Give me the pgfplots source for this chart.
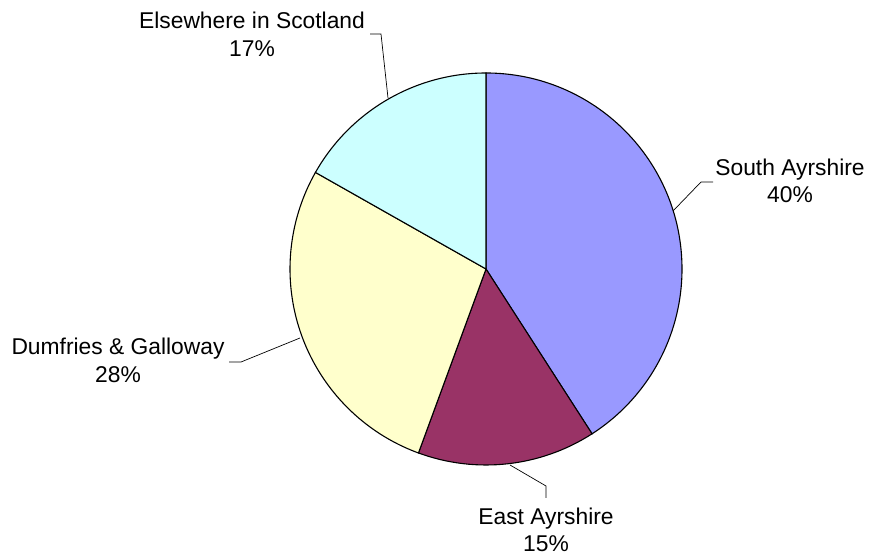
\documentclass[border=0pt]{standalone}
\usepackage{pgfplots}
\pgfplotsset{compat=1.18}
\usepackage{fontspec}
\setmainfont{Liberation Sans}
\definecolor{cSouth}{HTML}{9999FF}
\definecolor{cEast}{HTML}{993366}
\definecolor{cDumf}{HTML}{FFFFCC}
\definecolor{cElse}{HTML}{CCFFFF}
% shares (percent), clockwise from 12 o'clock
\def\pSouth{40.9}
\def\pEast{14.7}
\def\pDumf{27.6}
\def\pElse{16.8}
\pgfmathsetmacro\aA{90}
\pgfmathsetmacro\aB{\aA-3.6*\pSouth}
\pgfmathsetmacro\aC{\aB-3.6*\pEast}
\pgfmathsetmacro\aD{\aC-3.6*\pDumf}
\pgfmathsetmacro\aE{\aD-3.6*\pElse}
\begin{document}
\begin{tikzpicture}
\begin{axis}[
  x=1bp, y=1bp, xmin=0, xmax=871, ymin=0, ymax=560,
  hide axis, clip=false, scale only axis,
]
\path (axis cs:0,0) rectangle (axis cs:871,560);
\draw[fill=cSouth, line width=1.1pt] (axis cs:486,291) -- ++(\aA:196bp) arc[start angle=\aA, end angle=\aB, radius=196bp] -- cycle;
\draw[fill=cEast, line width=1.1pt] (axis cs:486,291) -- ++(\aB:196bp) arc[start angle=\aB, end angle=\aC, radius=196bp] -- cycle;
\draw[fill=cDumf, line width=1.1pt] (axis cs:486,291) -- ++(\aC:196bp) arc[start angle=\aC, end angle=\aD, radius=196bp] -- cycle;
\draw[fill=cElse, line width=1.1pt] (axis cs:486,291) -- ++(\aD:196bp) arc[start angle=\aD, end angle=\aE, radius=196bp] -- cycle;
% leader lines
\draw[line width=0.7pt] (axis cs:370,526) -- (axis cs:381,526) -- (axis cs:388,462);
\draw[line width=0.7pt] (axis cs:673,349) -- (axis cs:701,378) -- (axis cs:713,378);
\draw[line width=0.7pt] (axis cs:229,198) -- (axis cs:241,198) -- (axis cs:300,222);
\draw[line width=0.7pt] (axis cs:510,95) -- (axis cs:546,74) -- (axis cs:546,62);
% labels
\tikzset{lbl/.style={anchor=base, inner sep=0pt, font=\fontsize{22.9}{27}\selectfont}}
\node[lbl] at (axis cs:252,531) {Elsewhere in Scotland};
\node[lbl] at (axis cs:252,503) {17\%};
\node[lbl] at (axis cs:790,384) {South Ayrshire};
\node[lbl] at (axis cs:790,357) {40\%};
\node[lbl] at (axis cs:118,205) {Dumfries \& Galloway};
\node[lbl] at (axis cs:118,177) {28\%};
\node[lbl] at (axis cs:546,35) {East Ayrshire};
\node[lbl] at (axis cs:546,8) {15\%};
\end{axis}
\end{tikzpicture}
\end{document}
